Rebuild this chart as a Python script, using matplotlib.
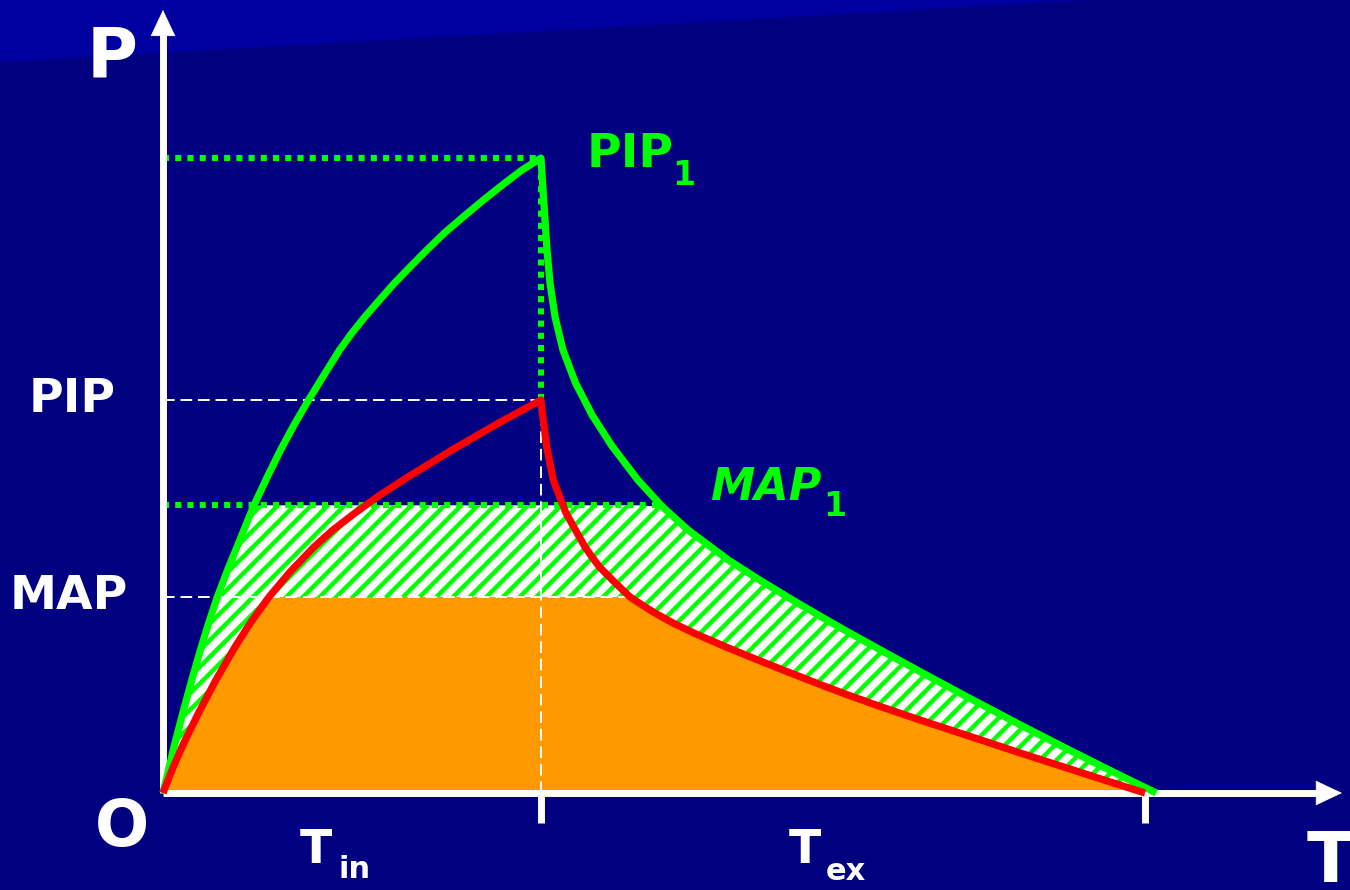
import numpy as np
import matplotlib
matplotlib.use('Agg')
import matplotlib.pyplot as plt
from matplotlib.patches import Polygon

# pressure-time curves of one breath (time in units of T_in, pressure in cmH2O)
t_green_rise = [0.0, 0.0146, 0.0291, 0.0407, 0.0524, 0.0762, 0.1013, 0.1217, 0.1437, 0.1709, 0.2032,
                0.2399, 0.2746, 0.3111, 0.3466, 0.3868, 0.4259, 0.4672, 0.5, 0.5336, 0.5728, 0.6127,
                0.6561, 0.6981, 0.7447, 0.7937, 0.8479, 0.9048, 0.9497, 1.0]
p_green_rise = [0.0, 1.16, 2.32, 3.18, 4.03, 5.70, 7.36, 8.62, 9.88, 11.24, 12.75,
                14.47, 15.88, 17.29, 18.55, 19.86, 21.07, 22.33, 23.19, 23.99, 24.85, 25.71,
                26.56, 27.37, 28.23, 29.03, 29.89, 30.75, 31.40, 32.0]
t_green_fall = [1.0, 1.0042, 1.0098, 1.0159, 1.0238, 1.0373, 1.0582, 1.0913, 1.1352, 1.1878, 1.2561,
                1.3217, 1.3889, 1.4960, 1.5780, 1.6653, 1.7426, 1.8172, 1.9077, 1.9997, 2.1325,
                2.2683, 2.3974, 2.5296, 2.6278]
p_green_fall = [32.0, 30.75, 29.13, 27.37, 25.71, 23.99, 22.33, 20.67, 19.05, 17.49, 15.78,
                14.42, 13.26, 11.74, 10.74, 9.73, 8.87, 8.06, 7.11, 6.15, 4.79,
                3.43, 2.17, 0.91, 0.0]

t_red_rise = [0.0, 0.0238, 0.0503, 0.0939, 0.1402, 0.1905, 0.2328, 0.2804, 0.3360, 0.3995, 0.4497,
              0.5079, 0.5741, 0.6481, 0.7646, 0.8836, 1.0]
p_red_rise = [0.0, 1.16, 2.32, 4.03, 5.70, 7.36, 8.62, 9.88, 11.14, 12.40, 13.26,
              14.11, 15.02, 15.93, 17.29, 18.60, 19.81]
t_red_fall = [1.0, 1.0034, 1.0093, 1.0151, 1.0235, 1.0325, 1.0497, 1.0661, 1.0910, 1.1164, 1.1349,
              1.1548, 1.1944, 1.2354, 1.2672, 1.3016, 1.3492, 1.4048, 1.4894, 1.5741, 1.6534,
              1.7354, 1.8122, 1.9021, 2.0026, 2.1323, 2.2672, 2.3995, 2.5317, 2.598]
p_red_fall = [19.81, 19.15, 18.30, 17.44, 16.63, 15.78, 14.92, 14.11, 13.26, 12.40, 11.90,
              11.39, 10.63, 9.88, 9.48, 9.07, 8.57, 8.06, 7.36, 6.70, 6.10,
              5.49, 4.94, 4.33, 3.68, 2.87, 2.02, 1.21, 0.40, 0.0]

T_IN = 1.0
T_END = 2.598
PIP1, PIP = 32.0, 19.81
MAP1, MAP = 14.5, 9.88

BG = '#000080'
GREEN = '#00ff00'
RED = '#ff0000'
ORANGE = '#ff9900'
FONT = 'DejaVu Sans'

plt.rcParams['hatch.linewidth'] = 3.2
plt.rcParams['hatch.color'] = GREEN

t_green = np.array(t_green_rise + t_green_fall[1:])
p_green = np.array(p_green_rise + p_green_fall[1:])
t_red = np.array(t_red_rise + t_red_fall[1:])
p_red = np.array(p_red_rise + p_red_fall[1:])

# where the falling limbs drop through the mean-pressure levels
t_map1_end = np.interp(MAP1, p_green_fall[::-1], t_green_fall[::-1])
t_map_end = np.interp(MAP, p_red_fall[::-1], t_red_fall[::-1])

fig = plt.figure(figsize=(13.5, 8.9), dpi=100, facecolor=BG)
ax = fig.add_axes([0, 0, 1, 1])
ax.set_xlim(-0.4312, 3.1402)
ax.set_ylim(-4.889, 39.97)
ax.axis('off')

# lighter band across the top of the slide
ax.add_patch(Polygon([(0, 1), (0, 1 - 62 / 890), (1090 / 1350, 1)], closed=True,
                     transform=ax.transAxes, facecolor='#0000a0', edgecolor='none', zorder=0))

# extra mean pressure (hatched) and baseline mean pressure (orange)
ax.fill_between(t_green, 0, np.minimum(p_green, MAP1), facecolor='white', edgecolor=GREEN,
                hatch='//', linewidth=0, zorder=1)
ax.fill_between(t_red, 0, np.minimum(p_red, MAP), facecolor=ORANGE, edgecolor='none',
                linewidth=0, zorder=2)

# reference lines
dash = dict(color='white', lw=1.4, dashes=(6, 3), zorder=3)
ax.plot([0, T_IN], [PIP, PIP], **dash)
ax.plot([0, t_map_end], [MAP, MAP], **dash)
ax.plot([T_IN, T_IN], [0, PIP], **dash)

dots = dict(color=GREEN, lw=4.4, dashes=(1, 1), solid_capstyle='butt', dash_capstyle='butt', zorder=3)
ax.plot([0, T_IN], [PIP1, PIP1], **dots)
ax.plot([T_IN, T_IN], [PIP, PIP1], **dots)
ax.plot([0, t_map1_end], [MAP1, MAP1], **dots)

# axes with arrow heads
ax.plot([0, 3.056], [0, 0], color='white', lw=5, solid_capstyle='butt', zorder=4)
ax.plot([0, 0], [0, 38.2], color='white', lw=5, solid_capstyle='butt', zorder=4)
head = dict(arrowstyle='-|>,head_length=1.8,head_width=0.85', color='white', lw=0.5,
            mutation_scale=10, shrinkA=0, shrinkB=0)
ax.annotate('', xy=(3.119, 0), xytext=(3.050, 0), arrowprops=head, zorder=4)
ax.annotate('', xy=(0, 39.47), xytext=(0, 37.9), arrowprops=head, zorder=4)
for tx in (T_IN, T_END):
    ax.plot([tx, tx], [0, -1.51], color='white', lw=5, solid_capstyle='butt', zorder=4)

# pressure curves
ax.plot(t_green, p_green, color=GREEN, lw=5.2, solid_joinstyle='round', solid_capstyle='butt', zorder=5)
ax.plot(t_red, p_red, color=RED, lw=5.2, solid_joinstyle='round', solid_capstyle='butt', zorder=5)

# labels
wt = dict(color='white', family=FONT, fontweight='bold', zorder=6)
gt = dict(color=GREEN, family=FONT, fontweight='bold', zorder=6)
ax.text(-0.135, 37.05, 'P', fontsize=50, ha='center', va='center', **wt)
ax.text(-0.241, PIP, 'PIP', fontsize=34, ha='center', va='center', **wt)
ax.text(-0.249, MAP, 'MAP', fontsize=34, ha='center', va='center', **wt)
ax.text(-0.108, -1.76, 'O', fontsize=46, ha='center', va='center', **wt)
ax.text(0.405, -2.92, 'T', fontsize=34, ha='center', va='center', **wt)
ax.text(0.463, -3.88, 'in', fontsize=22, ha='left', va='center', **wt)
ax.text(1.698, -2.92, 'T', fontsize=34, ha='center', va='center', **wt)
ax.text(1.754, -3.98, 'ex', fontsize=22, ha='left', va='center', **wt)
ax.text(3.087, -3.48, 'T', fontsize=50, ha='center', va='center', **wt)

ax.text(1.122, 32.16, 'PIP', fontsize=34, ha='left', va='center', **gt)
ax.text(1.347, 31.1, '1', fontsize=24, ha='left', va='center', **gt)
ax.text(1.447, 15.42, 'MAP', fontsize=32, ha='left', va='center', fontstyle='italic', **gt)
ax.text(1.748, 14.45, '1', fontsize=24, ha='left', va='center', **gt)

fig.savefig('out.png', dpi=100, facecolor=fig.get_facecolor())
